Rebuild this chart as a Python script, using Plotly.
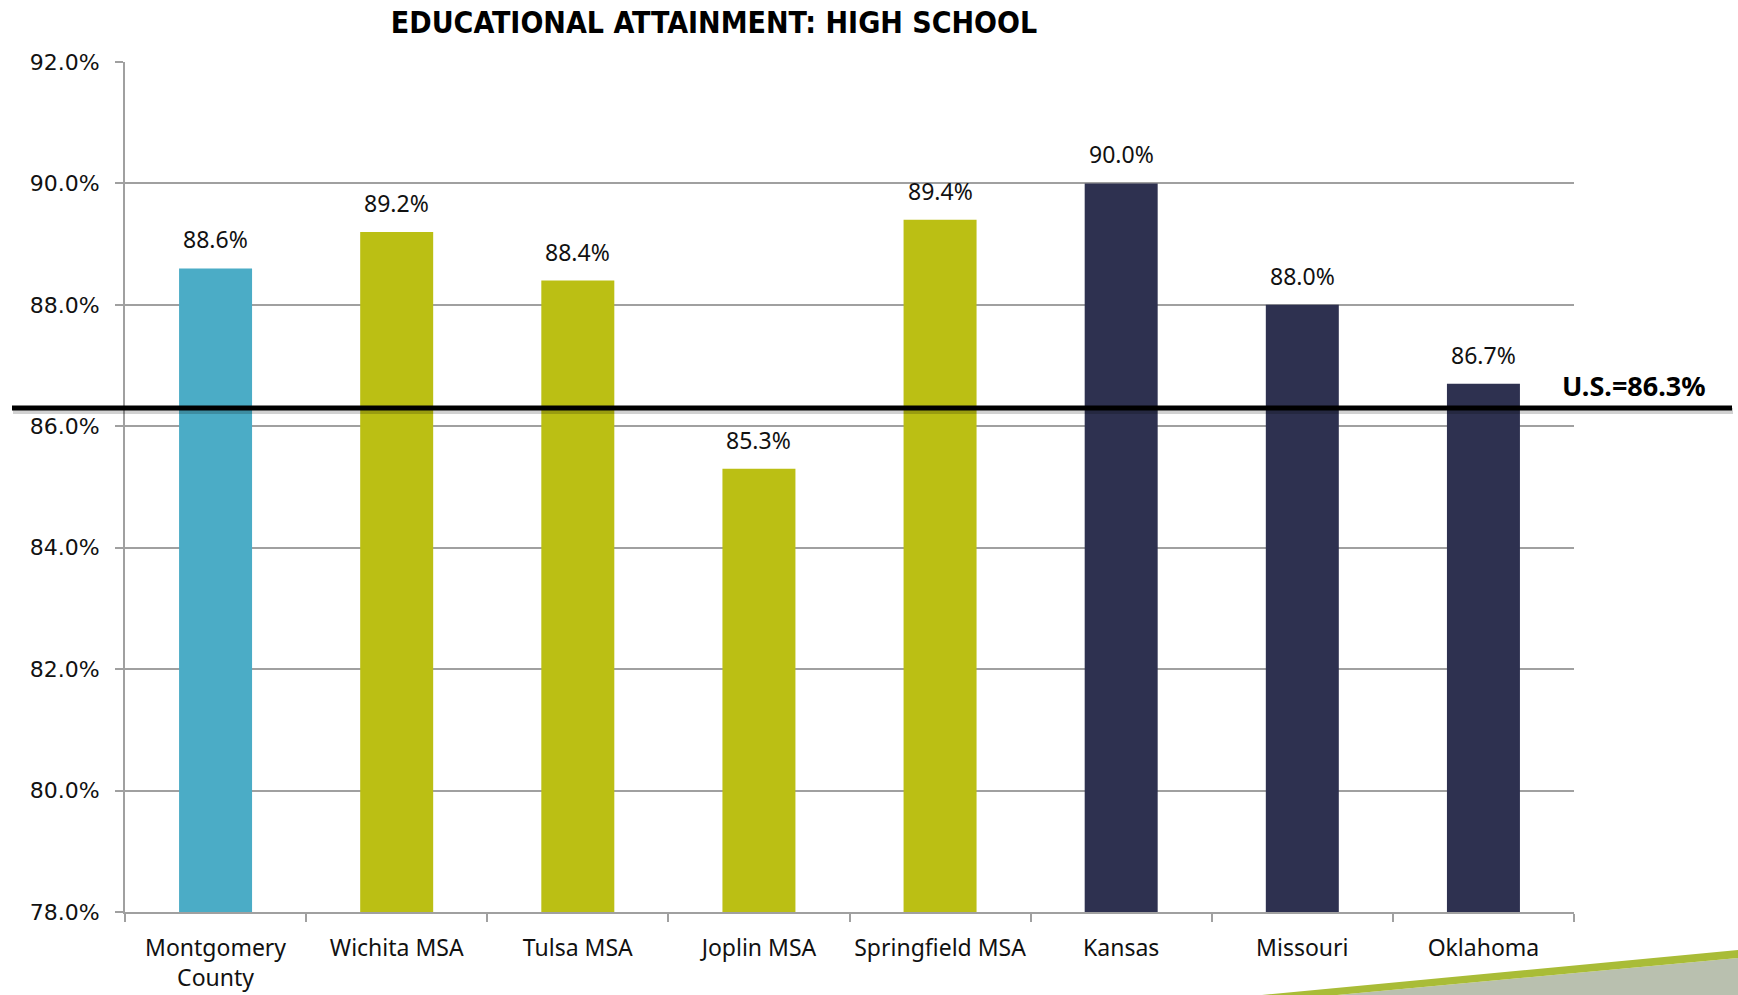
import plotly.graph_objects as go

# Share of adults with at least a high school diploma
categories = ["Montgomery<br>County", "Wichita MSA", "Tulsa MSA", "Joplin MSA",
              "Springfield MSA", "Kansas", "Missouri", "Oklahoma"]
values = [88.6, 89.2, 88.4, 85.3, 89.4, 90.0, 88.0, 86.7]
bar_colors = ["#4BACC6", "#BBBF14", "#BBBF14", "#BBBF14", "#BBBF14",
              "#2E3150", "#2E3150", "#2E3150"]
us_value = 86.3
y_ticks = [78, 80, 82, 84, 86, 88, 90, 92]

W, H = 1738, 995
ML, MR, MT, MB = 125, 164, 62, 83
PW, PH = W - ML - MR, H - MT - MB


def px_x(px):
    return (px - ML) / PW


def px_y(py):
    return (H - MB - py) / PH


fig = go.Figure()
fig.add_trace(go.Bar(
    x=categories, y=values, marker=dict(color=bar_colors, line=dict(width=0)),
    hoverinfo="x+y", showlegend=False,
))

# value labels above each bar
annotations = []
for c, v in zip(categories, values):
    annotations.append(dict(
        x=c, y=v, xref="x", yref="y", text=f"{v:.1f}%", showarrow=False,
        yanchor="bottom", yshift=11,
        font=dict(family="Noto Sans", size=23, color="#111111"),
    ))

annotations.append(dict(
    x=px_x(1560), y=us_value, xref="paper", yref="y", text="<b>U.S.=86.3%</b>",
    showarrow=False, xanchor="left", yanchor="bottom", yshift=2,
    font=dict(family="Noto Sans", size=27, color="#000000"),
))

shapes = [
    # slide decoration, bottom right
    dict(type="path", xref="paper", yref="paper", layer="below",
         path=f"M {px_x(1337)} {px_y(995)} L {px_x(1738)} {px_y(958)} L {px_x(1738)} {px_y(1000)} L {px_x(1330)} {px_y(1000)} Z",
         fillcolor="#B9C0AF", line=dict(width=0)),
    dict(type="path", xref="paper", yref="paper", layer="below",
         path=f"M {px_x(1262)} {px_y(995)} L {px_x(1738)} {px_y(950)} L {px_x(1738)} {px_y(958)} L {px_x(1337)} {px_y(995)} Z",
         fillcolor="#A9BC37", line=dict(width=0)),
    # soft shadow a few pixels under the U.S. reference line
    dict(type="line", xref="paper", yref="y", x0=px_x(13), x1=px_x(1733),
         ysizemode="pixel", yanchor=us_value, y0=-3, y1=-3,
         line=dict(color="rgba(0,0,0,0.18)", width=6)),
    # U.S. reference line
    dict(type="line", xref="paper", yref="y", x0=px_x(12), x1=px_x(1732),
         y0=us_value, y1=us_value, line=dict(color="#000000", width=5)),
]

fig.update_layout(
    width=W, height=H,
    margin=dict(l=ML, r=MR, t=MT, b=MB, pad=0, autoexpand=False),
    paper_bgcolor="#FFFFFF", plot_bgcolor="#FFFFFF",
    bargap=0.597,
    title=dict(
        text="<b>EDUCATIONAL ATTAINMENT: HIGH SCHOOL</b>",
        x=714 / W, xref="container", xanchor="center",
        y=1 - 22.5 / H, yref="container", yanchor="middle",
        font=dict(family="DejaVu Sans Condensed, sans-serif",
                  size=30, color="#000000"),
    ),
    annotations=annotations,
    shapes=shapes,
    font=dict(family="Noto Sans", color="#111111"),
)

fig.update_yaxes(
    range=[78, 92], tickvals=y_ticks, ticktext=[f"{t:.1f}%" for t in y_ticks],
    showgrid=True, gridcolor="#A0A0A0", gridwidth=2,
    showline=True, linecolor="#A0A0A0", linewidth=2,
    ticks="outside", ticklen=8, tickcolor="#A0A0A0", tickwidth=2,
    ticklabelstandoff=11, zeroline=False, automargin=False,
    tickfont=dict(family="DejaVu Sans", size=22, color="#111111"),
)
fig.update_xaxes(
    showgrid=False, showline=True, linecolor="#A0A0A0", linewidth=2,
    ticks="outside", tickson="boundaries", ticklen=8, tickcolor="#A0A0A0", tickwidth=2,
    ticklabelstandoff=14, tickangle=0, automargin=False,
    tickfont=dict(family="Noto Sans", size=23, color="#111111"),
)

fig.write_html("out.html")
